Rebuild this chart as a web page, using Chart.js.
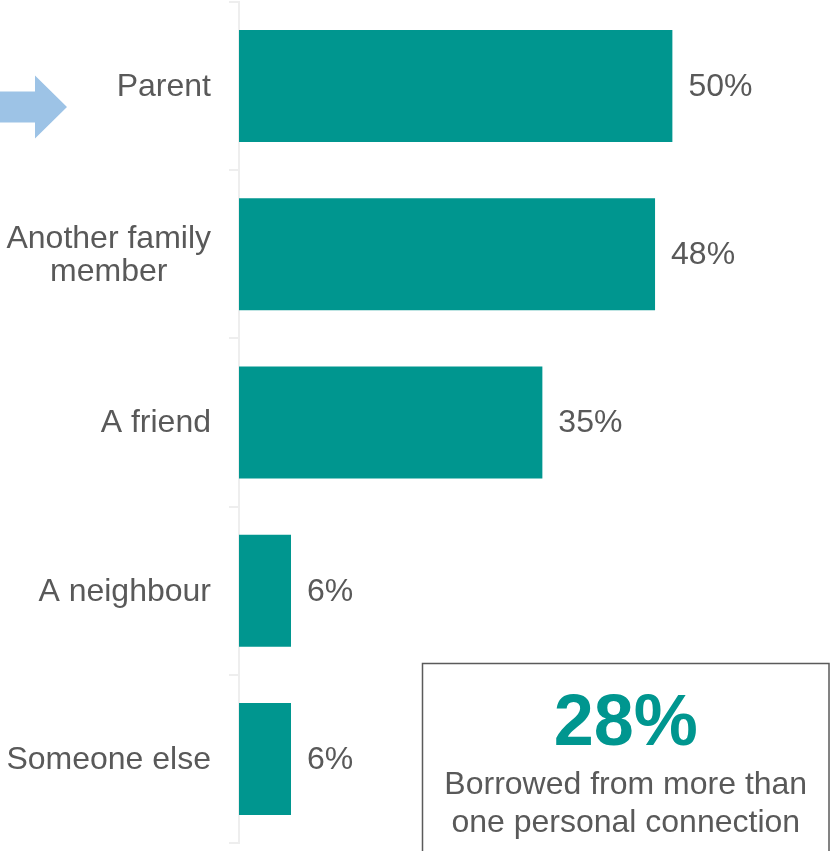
<!DOCTYPE html>
<html>
<head>
<meta charset="utf-8">
<script src="https://cdn.jsdelivr.net/npm/chart.js@4.4.1/dist/chart.umd.min.js"></script>
<style>
  html, body { margin: 0; padding: 0; background: #ffffff; }
  canvas { display: block; }
</style>
</head>
<body>
<canvas id="chart" width="831" height="851"></canvas>
<script>
// Who people borrowed from (% of borrowers)
const categories = [['Parent'], ['Another family', 'member'], ['A friend'], ['A neighbour'], ['Someone else']];
const shares = [50, 48, 35, 6, 6];
const highlightedCategory = 0;

// Call-out figure
const multiSourceShare = 28;
const multiSourceText = ['Borrowed from more than', 'one personal connection'];

const TEAL = '#00968f';
const TEXT_GRAY = '#595959';
const ARROW_BLUE = '#9dc3e6';
const FONT = '"Liberation Sans", Arial, sans-serif';

const annotations = {
  id: 'annotations',
  afterDraw(chart) {
    const ctx = chart.ctx;
    const y = chart.scales.y;
    const meta = chart.getDatasetMeta(0);

    ctx.save();
    // value labels at bar ends
    ctx.font = '32px ' + FONT;
    ctx.fillStyle = TEXT_GRAY;
    ctx.textAlign = 'left';
    ctx.textBaseline = 'middle';
    meta.data.forEach((bar, i) => {
      ctx.fillText(shares[i] + '%', bar.x + 16, bar.y + 1);
    });

    // category labels: block right-aligned, lines centred within block
    const rightEdge = y.right - 28;
    const lineH = 33;
    categories.forEach((lines, i) => {
      const cy = y.getPixelForValue(i) + 1;
      const blockW = Math.max(...lines.map(l => ctx.measureText(l).width));
      const cx = rightEdge - blockW / 2;
      ctx.textAlign = 'center';
      lines.forEach((l, k) => {
        ctx.fillText(l, cx, cy + (k - (lines.length - 1) / 2) * lineH);
      });
    });

    // arrow pointing at the highlighted category
    const ay = y.getPixelForValue(highlightedCategory) + 21;
    ctx.fillStyle = ARROW_BLUE;
    ctx.beginPath();
    ctx.moveTo(0, ay - 15.5);
    ctx.lineTo(35, ay - 15.5);
    ctx.lineTo(35, ay - 31.5);
    ctx.lineTo(67, ay);
    ctx.lineTo(35, ay + 31.5);
    ctx.lineTo(35, ay + 15.5);
    ctx.lineTo(0, ay + 15.5);
    ctx.closePath();
    ctx.fill();

    // call-out box
    const bx = 422.5, by = 663.5, bw = 406.5, bh = 190;
    ctx.strokeStyle = '#5a5a5a';
    ctx.lineWidth = 1.5;
    ctx.strokeRect(bx, by, bw, bh);
    const mx = bx + bw / 2;
    ctx.textAlign = 'center';
    ctx.textBaseline = 'alphabetic';
    ctx.fillStyle = TEAL;
    ctx.font = 'bold 72px ' + FONT;
    ctx.fillText(multiSourceShare + '%', mx, 745);
    ctx.fillStyle = TEXT_GRAY;
    ctx.font = '32px ' + FONT;
    ctx.fillText(multiSourceText[0], mx, 794);
    ctx.fillText(multiSourceText[1], mx, 832);
    ctx.restore();
  }
};

new Chart(document.getElementById('chart'), {
  type: 'bar',
  data: {
    labels: categories,
    datasets: [{
      data: shares,
      backgroundColor: TEAL,
      borderWidth: 0,
      barPercentage: 0.666,
      categoryPercentage: 1
    }]
  },
  options: {
    indexAxis: 'y',
    responsive: false,
    animation: false,
    devicePixelRatio: 1,
    layout: { padding: { top: 2, bottom: 8, left: 0, right: 0 } },
    plugins: { legend: { display: false }, tooltip: { enabled: false } },
    scales: {
      x: { display: false, min: 0, max: 68.3 },
      y: {
        afterFit(scale) { scale.width = 239; },
        grid: {
          offset: true,
          drawOnChartArea: false,
          drawTicks: true,
          tickLength: 10,
          color: '#eeeeee',
          lineWidth: 2
        },
        border: { display: true, color: '#eeeeee', width: 2 },
        ticks: { display: false }
      }
    }
  },
  plugins: [annotations]
});
</script>
</body>
</html>
